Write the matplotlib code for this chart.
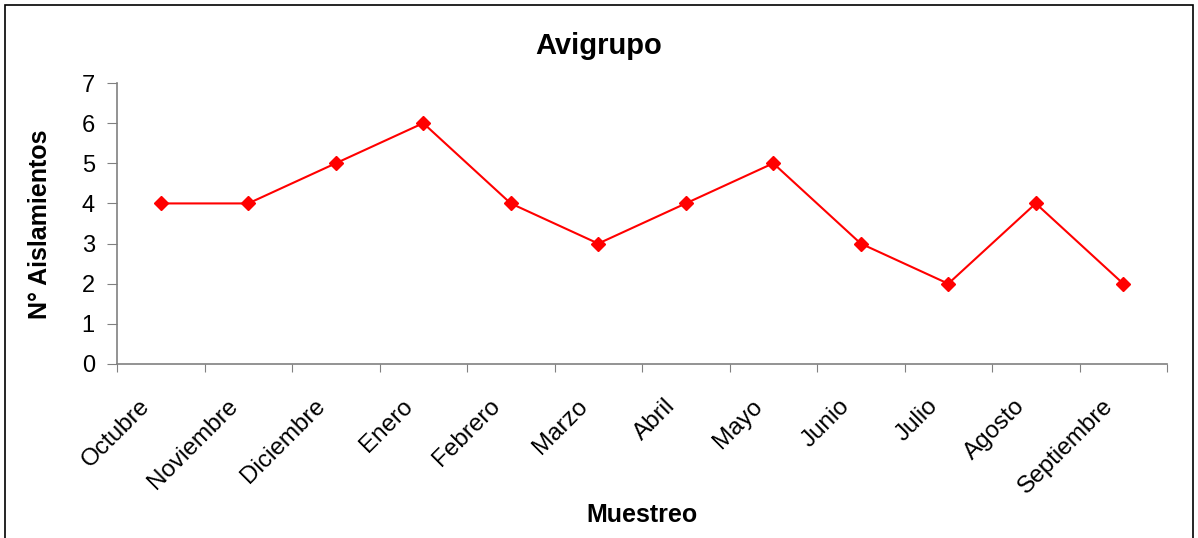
import matplotlib
matplotlib.use("Agg")
import matplotlib.pyplot as plt
from matplotlib.patches import Rectangle
from matplotlib.transforms import ScaledTranslation

months = ["Octubre", "Noviembre", "Diciembre", "Enero", "Febrero", "Marzo",
          "Abril", "Mayo", "Junio", "Julio", "Agosto", "Septiembre"]
values = [4, 4, 5, 6, 4, 3, 4, 5, 3, 2, 4, 2]
yticks = [0, 1, 2, 3, 4, 5, 6, 7]

plt.rcParams['font.family'] = ['Liberation Sans', 'DejaVu Sans']

W, H = 1198, 538
fig = plt.figure(figsize=(W/100, H/100), dpi=100)
ax = fig.add_axes([117/W, 1-364/H, (1167-117)/W, (364-83)/H])

x = list(range(len(months)))
ax.plot(x, values, color='#FF0000', lw=1.5, marker='D', markersize=7.5,
        markerfacecolor='#FF0000', markeredgecolor='#FF0000')

ax.set_xlim(-0.5, len(months) - 0.5)
ax.set_ylim(0, 7)
ax.set_yticks(yticks)
ax.set_yticklabels([str(t) for t in yticks], fontsize=17)

# category ticks between categories
ax.set_xticks([i - 0.5 for i in range(len(months) + 1)])
ax.set_xticklabels([])
ax.set_xticks(x, minor=True)
ax.set_xticklabels(months, minor=True, fontsize=17.5, rotation=45,
                   ha='right', va='center', rotation_mode='anchor')
ax.tick_params(axis='x', which='minor', length=0, pad=28)
ax.tick_params(axis='x', which='major', length=6, color='#808080', direction='out')
ax.tick_params(axis='y', length=7, color='#808080', direction='out', pad=9)
for lab in ax.get_xticklabels(minor=True):
    lab.set_transform(lab.get_transform() + ScaledTranslation(-14/100, 0, fig.dpi_scale_trans))

for s in ['top', 'right']:
    ax.spines[s].set_visible(False)
for s in ['left', 'bottom']:
    ax.spines[s].set_color('#808080')
    ax.spines[s].set_linewidth(1.2)

fig.text(599/W, 1-46/H, "Avigrupo", fontsize=21, fontweight='bold',
         ha='center', va='center')
fig.text(40/W, 1-224/H, "N° Aislamientos", fontsize=18, fontweight='bold',
         ha='center', va='center', rotation=90)
fig.text(642/W, 1-515/H, "Muestreo", fontsize=18,
         fontweight='bold', ha='center', va='center')

fig.patches.append(Rectangle((5/W, -0.05), (1193-5)/W, 1.05 - 5/H,
                             transform=fig.transFigure, fill=False,
                             edgecolor='black', lw=1.2))

fig.savefig("out.png", dpi=100)
